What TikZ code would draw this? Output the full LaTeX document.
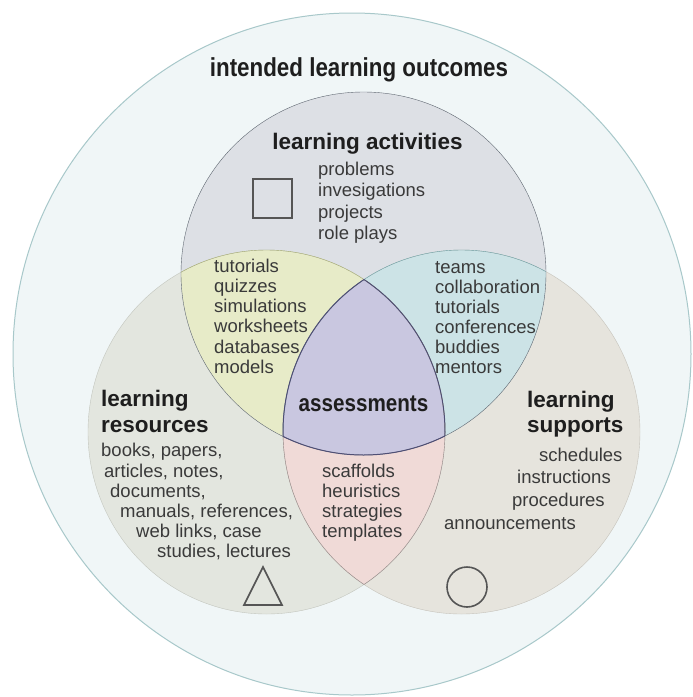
\documentclass[tikz,border=0pt]{standalone}
\usepackage{fontspec}
\setmainfont{Liberation Sans}
\newfontfamily\narrowsans[FakeStretch=0.86]{Liberation Sans}
\usetikzlibrary{positioning}

\definecolor{ilofill}{HTML}{F0F6F7}
\definecolor{iloline}{HTML}{A8C8CA}
\definecolor{resfill}{HTML}{E3E6DF}
\definecolor{resline}{HTML}{C3C6BE}
\definecolor{supfill}{HTML}{E6E4DD}
\definecolor{supline}{HTML}{C6C3BB}
\definecolor{actfill}{HTML}{DDE0E5}
\definecolor{actline}{HTML}{5E6670}
\definecolor{yellowfill}{HTML}{E7EBC8}
\definecolor{yellowline}{HTML}{A9AE72}
\definecolor{bluefill}{HTML}{CCE3E6}
\definecolor{blueline}{HTML}{6AA2A9}
\definecolor{pinkfill}{HTML}{F0DAD7}
\definecolor{pinkline}{HTML}{9A8A8A}
\definecolor{purplefill}{HTML}{C9C7E0}
\definecolor{purpleline}{HTML}{4F4F75}
\definecolor{textgray}{HTML}{3A3A3A}
\definecolor{titlegray}{HTML}{1E1E1E}
\definecolor{symbolgray}{HTML}{555555}

\begin{document}
\begin{tikzpicture}[x=1pt,y=-1pt,
    lobe/.style={x radius=178.5pt, y radius=182pt},
    toplobe/.style={x radius=182.5pt, y radius=181.5pt},
    title/.style={font=\fontsize{22.5}{26}\selectfont\bfseries, inner sep=0pt, text=titlegray},
    item/.style={font=\fontsize{18.5}{20}\selectfont, inner sep=0pt, text=textgray, anchor=base west},
    symbol/.style={draw=symbolgray, line width=1.6pt}]

\useasboundingbox (0,0) rectangle (693,697);
\fill[white] (0,0) rectangle (693,697);

\coordinate (ilo) at (352,354);
\coordinate (act) at (363.5,273.5);
\coordinate (res) at (266.5,432);
\coordinate (sup) at (461.5,432);

% outer ring
\fill[ilofill] (ilo) ellipse [x radius=339pt, y radius=341pt];
\draw[iloline, line width=1pt] (ilo) ellipse [x radius=339pt, y radius=341pt];

% the three lobes and their overlaps
\fill[resfill] (res) ellipse [lobe];
\fill[supfill] (sup) ellipse [lobe];
\fill[actfill] (act) ellipse [toplobe];
\begin{scope}
    \clip (res) ellipse [lobe];
    \fill[pinkfill] (sup) ellipse [lobe];
\end{scope}
\begin{scope}
    \clip (act) ellipse [toplobe];
    \fill[yellowfill] (res) ellipse [lobe];
    \fill[bluefill] (sup) ellipse [lobe];
\end{scope}
\begin{scope}
    \clip (act) ellipse [toplobe];
    \clip (res) ellipse [lobe];
    \fill[purplefill] (sup) ellipse [lobe];
\end{scope}

% outlines
\draw[resline] (res) ellipse [lobe];
\draw[supline] (sup) ellipse [lobe];
\begin{scope}
    \clip (res) ellipse [lobe];
    \draw[pinkline] (sup) ellipse [lobe];
\end{scope}
\begin{scope}
    \clip (sup) ellipse [lobe];
    \draw[pinkline] (res) ellipse [lobe];
\end{scope}
\begin{scope}
    \clip (act) ellipse [toplobe];
    \draw[yellowline] (res) ellipse [lobe];
    \draw[blueline] (sup) ellipse [lobe];
\end{scope}
\draw[actline] (act) ellipse [toplobe];
\begin{scope}
    \clip (res) ellipse [lobe];
    \clip (sup) ellipse [lobe];
    \draw[purpleline, line width=1pt] (act) ellipse [toplobe];
\end{scope}
\begin{scope}
    \clip (act) ellipse [toplobe];
    \clip (res) ellipse [lobe];
    \draw[purpleline, line width=1pt] (sup) ellipse [lobe];
\end{scope}
\begin{scope}
    \clip (act) ellipse [toplobe];
    \clip (sup) ellipse [lobe];
    \draw[purpleline, line width=1pt] (res) ellipse [lobe];
\end{scope}

% symbols
\draw[symbol] (253,179) rectangle (292,218);
\draw[symbol] (263,567) -- (244,605) -- (282,605) -- cycle;
\draw[symbol] (467,587) circle [radius=20pt];

% titles
\node[title, font=\narrowsans\fontsize{26}{30}\selectfont\bfseries, anchor=base] (ilotitle) at (359,76) {intended learning outcomes};
\node[title, anchor=base] (acttitle) at (367.5,149) {learning activities};
\node[title, anchor=base west] (restitle) at (101,406) {learning};
\node[title, anchor=base west] (restitle2) at (101,432) {resources};
\node[title, anchor=base west] (suptitle) at (527,407) {learning};
\node[title, anchor=base west] (suptitle2) at (527,432) {supports};
\node[title, font=\narrowsans\fontsize{24}{26}\selectfont\bfseries, anchor=base] (assess) at (363.5,411) {assessments};

% lists
\foreach \t [count=\i from 0] in {problems,invesigations,projects,role plays}
    \node[item] (act-\i) at (318,175+21.5*\i) {\t};

\foreach \t [count=\i from 0] in {tutorials,quizzes,simulations,worksheets,databases,models}
    \node[item] (ra-\i) at (214,272+20.3*\i) {\t};

\foreach \t [count=\i from 0] in {teams,collaboration,tutorials,conferences,buddies,mentors}
    \node[item] (sa-\i) at (435,273+20*\i) {\t};

\foreach \t [count=\i from 0] in {scaffolds,heuristics,strategies,templates}
    \node[item] (rs-\i) at (322,477+20*\i) {\t};

\foreach \x/\y/\t [count=\i] in {101/456/{books, papers,},104/477/{articles, notes,},110/497/{documents,},
        120/517/{manuals, references,},136/537/{web links, case},157/557/{studies, lectures}}
    \node[item] (res-\i) at (\x,\y) {\t};

\foreach \x/\y/\t [count=\i] in {539/461/schedules,517/483/instructions,512/506/procedures,444/529/announcements}
    \node[item] (sup-\i) at (\x,\y) {\t};

\end{tikzpicture}
\end{document}
